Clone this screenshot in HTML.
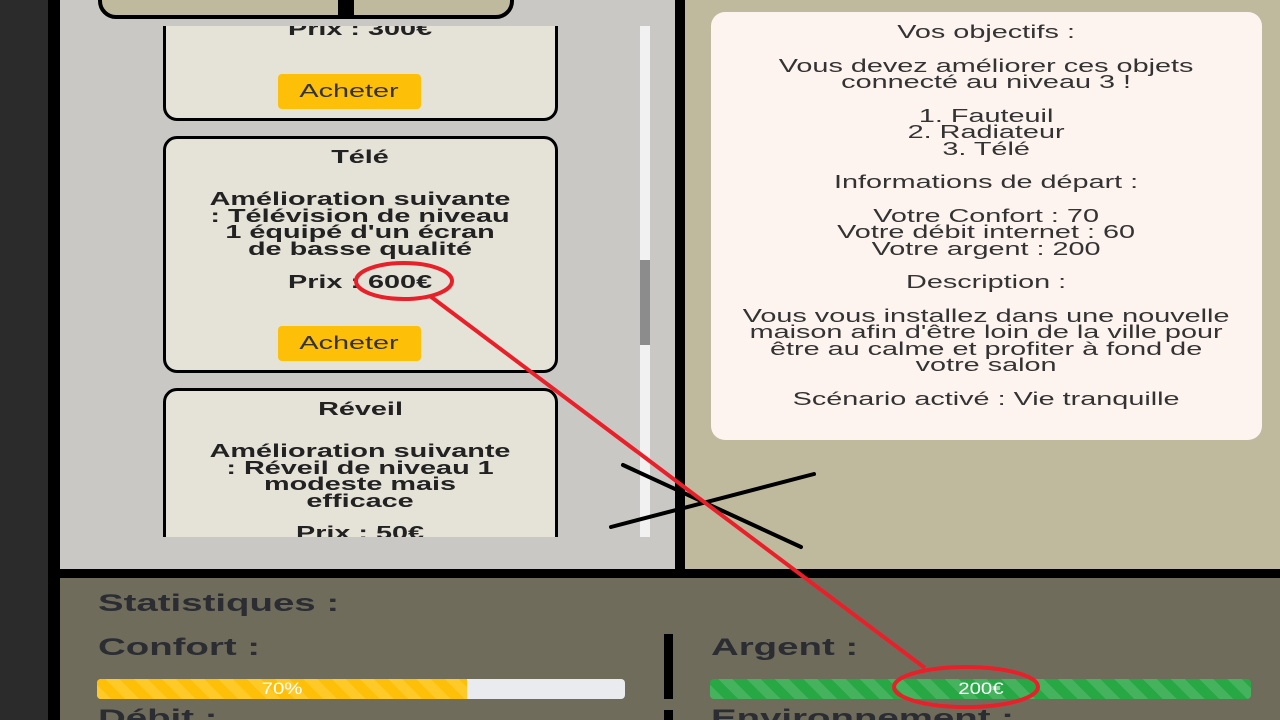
<!DOCTYPE html>
<html style="overflow:hidden;width:1280px;height:720px"><head><meta charset="utf-8"><style>
*{margin:0;padding:0;box-sizing:border-box}
body{width:1280px;height:720px;overflow:hidden;position:relative;background:#2b2b2b;font-family:"Liberation Sans",sans-serif}
.abs{position:absolute}
.s{display:inline-block;transform:scaleX(1.6);transform-origin:center;white-space:nowrap}
.sl{display:inline-block;transform:scaleX(1.6);transform-origin:left;white-space:nowrap}
.card{position:absolute;width:395px;background:#e5e2d8;border:3px solid #000;border-radius:14px;text-align:center;color:#222;font-weight:bold;font-size:18px}
.t{position:absolute;left:0;width:100%;text-align:center}
.btn{position:absolute;left:112px;width:143px;height:35px;background:#fdbf07;border-radius:4px;color:#333;font-weight:normal;font-size:18px;line-height:35px;text-align:center}
.info{position:absolute;left:711px;top:12px;width:551px;height:428px;background:#fdf4ef;border-radius:14px;text-align:center;color:#333;font-size:18px;line-height:16.5px}
.lbl{position:absolute;color:#2b2d33;font-weight:bold;font-size:24px}
</style></head><body>
<div class="abs" style="left:48px;top:0;width:1232px;height:720px;background:#000"></div>
<div class="abs" style="left:60px;top:0;width:615px;height:569px;background:#c9c8c4"></div>
<div class="abs" style="left:685px;top:0;width:595px;height:569px;background:#bfba9e"></div>
<div class="abs" style="left:60px;top:578px;width:1220px;height:142px;background:#706c5c"></div>
<div class="abs" style="left:98px;top:-30px;width:416px;height:49px;background:#bfba9e;border:4px solid #000;border-radius:18px"></div>
<div class="abs" style="left:338px;top:0;width:16px;height:16px;background:#000"></div>
<div class="abs" style="left:60px;top:26px;width:600px;height:511px;overflow:hidden">
 <div class="card" style="left:103px;top:-40px;height:135px"><div class="t" style="top:30px"><span class="s">Prix : 300€</span></div><div class="btn" style="top:85px"><span class="s">Acheter</span></div></div>
 <div class="card" style="left:103px;top:110px;height:237px">
  <div class="t" style="top:8px"><span class="s">Télé</span></div>
  <div class="t" style="top:52px;line-height:16.5px"><span class="s">Amélioration suivante<br>: Télévision de niveau<br>1 équipé d'un écran<br>de basse qualité</span></div>
  <div class="t" style="top:133px"><span class="s">Prix : 600€</span></div>
  <div class="btn" style="top:187px"><span class="s">Acheter</span></div></div>
 <div class="card" style="left:103px;top:362px;height:200px">
  <div class="t" style="top:8px"><span class="s">Réveil</span></div>
  <div class="t" style="top:52px;line-height:16.5px"><span class="s">Amélioration suivante<br>: Réveil de niveau 1<br>modeste mais<br>efficace</span></div>
  <div class="t" style="top:132px"><span class="s">Prix : 50€</span></div></div>
 <div class="abs" style="left:580px;top:0;width:10px;height:511px;background:#f1f1f1"></div>
 <div class="abs" style="left:580px;top:234px;width:10px;height:85px;background:#8c8c8c"></div>
</div>
<div class="info"><div class="s" style="transform:scaleX(1.6)">
<div style="margin-top:12px">Vos objectifs :</div>
<div style="margin-top:17px">Vous devez améliorer ces objets<br>connecté au niveau 3 !</div>
<div style="margin-top:17px">1. Fauteuil<br>2. Radiateur<br>3. Télé</div>
<div style="margin-top:17px">Informations de départ :</div>
<div style="margin-top:17px">Votre Confort : 70<br>Votre débit internet : 60<br>Votre argent : 200</div>
<div style="margin-top:17px">Description :</div>
<div style="margin-top:17px">Vous vous installez dans une nouvelle<br>maison afin d'être loin de la ville pour<br>être au calme et profiter à fond de<br>votre salon</div>
<div style="margin-top:17px">Scénario activé : Vie tranquille</div>
</div></div>
<div class="lbl" style="left:98px;top:590px"><span class="sl">Statistiques :</span></div>
<div class="lbl" style="left:98px;top:634px"><span class="sl">Confort :</span></div>
<div class="lbl" style="left:711px;top:634px"><span class="sl">Argent :</span></div>
<div class="lbl" style="left:98px;top:705px"><span class="sl">Débit :</span></div>
<div class="lbl" style="left:711px;top:705px"><span class="sl">Environnement :</span></div>
<div class="abs" style="left:664px;top:634px;width:9px;height:65px;background:#000"></div>
<div class="abs" style="left:664px;top:710px;width:9px;height:10px;background:#000"></div>
<div class="abs" style="left:97px;top:679px;width:528px;height:20px;background:#e9ebee;border-radius:4px;overflow:hidden"><div style="width:370px;height:100%;background:repeating-linear-gradient(45deg,#ffc928 0 10px,#fdbf07 10px 20px);color:#fff;text-align:center;font-size:17px;line-height:20px"><span class="s" style="transform:scaleX(1.2)">70%</span></div></div>
<div class="abs" style="left:710px;top:679px;width:541px;height:20px;border-radius:4px;background:repeating-linear-gradient(45deg,#45b35e 0 10px,#28a745 10px 20px);color:#fff;text-align:center;font-size:17px;line-height:20px"><span class="s" style="transform:scaleX(1.2)">200€</span></div>
<svg class="abs" style="left:0;top:0" width="1280" height="720">
<line x1="623" y1="465" x2="801" y2="547" stroke="#000" stroke-width="4" stroke-linecap="round"/>
<line x1="611" y1="527" x2="814" y2="474" stroke="#000" stroke-width="4" stroke-linecap="round"/>
<line x1="430" y1="296" x2="925" y2="668" stroke="#e8202a" stroke-width="4"/>
<ellipse cx="404" cy="281" rx="48" ry="18" fill="none" stroke="#e8202a" stroke-width="4"/>
<ellipse cx="966" cy="687" rx="72" ry="20" fill="none" stroke="#e8202a" stroke-width="4"/>
</svg>
</body></html>
